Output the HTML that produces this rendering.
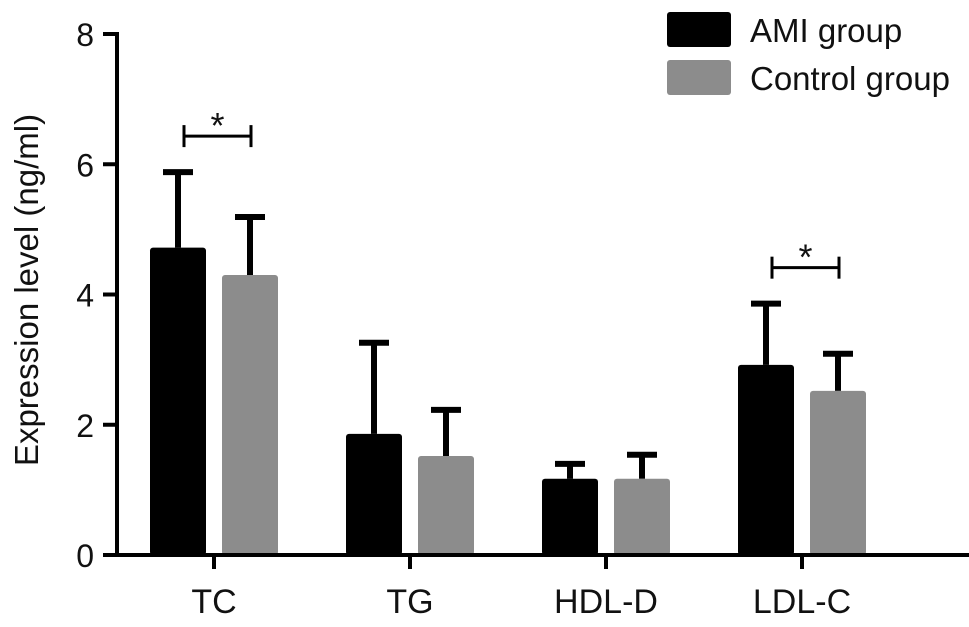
<!DOCTYPE html>
<html><head><meta charset="utf-8"><style>
html,body{margin:0;padding:0;background:#fff;}
svg{display:block;font-family:"Liberation Sans",Arial,sans-serif;}
</style></head><body>
<svg id="chart" width="969" height="627" viewBox="0 0 969 627" xmlns="http://www.w3.org/2000/svg"></svg>
<script>
const categories = ["TC", "TG", "HDL-D", "LDL-C"];
const amiValues = [4.72, 1.86, 1.17, 2.92];
const amiErrors = [1.19, 1.43, 0.26, 0.97];
const controlValues = [4.30, 1.52, 1.17, 2.52];
const controlErrors = [0.92, 0.74, 0.40, 0.60];
const yTicks = [0, 2, 4, 6, 8];
const sigPairs = [0, 3];

const NS = "http://www.w3.org/2000/svg";
const svg = document.getElementById("chart");
const y0 = 555, yTop = 34, yMax = 8;
const yScale = v => y0 - (y0 - yTop) * v / yMax;
const xStart = 214, xStep = 196;
const xCenter = i => xStart + i * xStep;
const axisX = 117;

function mk(tag, attrs, parent) {
  const e = document.createElementNS(NS, tag);
  for (const k in attrs) e.setAttribute(k, attrs[k]);
  (parent || svg).appendChild(e);
  return e;
}

categories.forEach((c, i) => {
  const cx = xCenter(i);
  [[amiValues, amiErrors, "#000", cx - 64, "ami"], [controlValues, controlErrors, "#8c8c8c", cx + 8, "control"]].forEach(([vals, errs, col, x, nm]) => {
    const top = yScale(vals[i]);
    const et = yScale(vals[i] + errs[i]);
    const mx = x + 28;
    const el = mk("line", {x1: mx, x2: mx, y1: top, y2: et, stroke: "#000", "stroke-width": 6});
    
    
    const cap = mk("line", {x1: mx - 15, x2: mx + 15, y1: et + 2, y2: et + 2, stroke: "#000", "stroke-width": 6});
    
    
    const r = mk("rect", {x: x, y: top, width: 56, height: y0 - top, fill: col, rx: 3});
    
    
  });
  const t = mk("line", {x1: cx, x2: cx, y1: y0, y2: y0 + 14, stroke: "#000", "stroke-width": 4});
  
  
  const lb = mk("text", {x: cx, y: 613, "text-anchor": "middle", "font-size": 34, fill: "#111"});
  lb.textContent = c;
  
  
});

sigPairs.forEach(i => {
  const a = xCenter(i) - 30, b = xCenter(i) + 37;
  const top = Math.max(amiValues[i] + amiErrors[i], controlValues[i] + controlErrors[i]);
  const yb = yScale(top) - 34;
  const g = mk("g", {stroke: "#000", "stroke-width": 3});
  
  
  mk("line", {x1: a, x2: b, y1: yb, y2: yb}, g);
  mk("line", {x1: a, x2: a, y1: yb - 11, y2: yb + 11}, g);
  mk("line", {x1: b, x2: b, y1: yb - 11, y2: yb + 11}, g);
  const s = mk("text", {x: (a + b) / 2, y: yb + 2, "text-anchor": "middle", "font-size": 36, fill: "#111"});
  s.textContent = "*";
  
  
});

const xa = mk("line", {x1: axisX - 2, x2: 969, y1: y0, y2: y0, stroke: "#000", "stroke-width": 4});


const ya = mk("line", {x1: axisX, x2: axisX, y1: yTop - 2, y2: y0 + 2, stroke: "#000", "stroke-width": 4});


yTicks.forEach(v => {
  const y = yScale(v);
  const t = mk("line", {x1: 103, x2: axisX, y1: y, y2: y, stroke: "#000", "stroke-width": 4});
  
  
  const l = mk("text", {x: 94, y: y + 12, "text-anchor": "end", "font-size": 32, fill: "#111"});
  l.textContent = v;
  
  
});
const yt = mk("text", {x: 0, y: 0, transform: "translate(38,290) rotate(-90)", "text-anchor": "middle", "font-size": 33, fill: "#111"});
yt.textContent = "Expression level (ng/ml)";



[["AMI group", "#000", 12], ["Control group", "#8c8c8c", 60]].forEach(([n, col, y]) => {
  const r = mk("rect", {x: 667, y: y, width: 64, height: 35, fill: col, rx: 3});
  
  
  const t = mk("text", {x: 750, y: y + 30, "font-size": 33, fill: "#111"});
  t.textContent = n;
  
  
});
</script>
</body></html>
